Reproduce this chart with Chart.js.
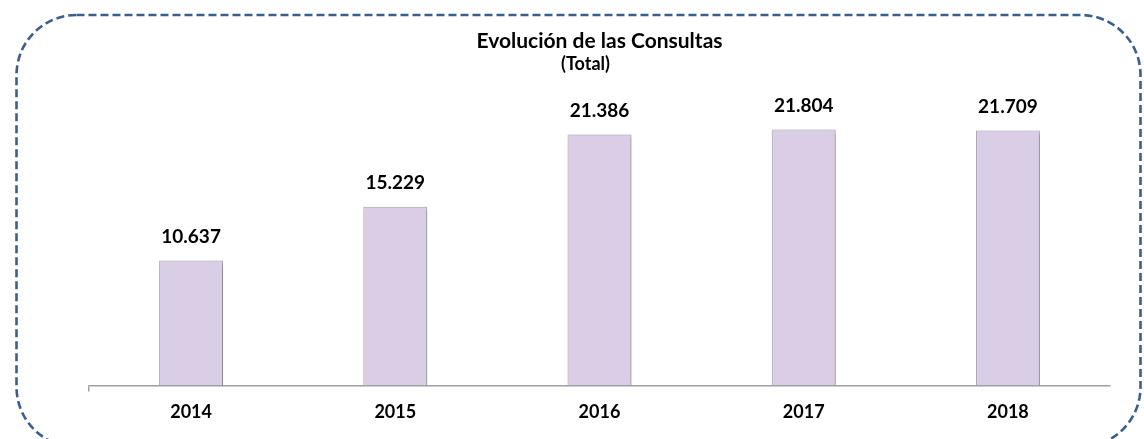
<!DOCTYPE html>
<html>
<head>
<meta charset="utf-8">
<script src="https://cdn.jsdelivr.net/npm/chart.js@4"></script>
<style>
  html, body { margin: 0; padding: 0; background: #fff; }
  #wrap { width: 1144px; height: 439px; position: relative; }
</style>
</head>
<body>
<div id="wrap"><canvas id="consultas" width="1144" height="439"></canvas></div>
<script>
const years = ['2014', '2015', '2016', '2017', '2018']
const consultas = [10637, 15229, 21386, 21804, 21709]
const chartTitle = 'Evolución de las Consultas'
const chartSubtitle = '(Total)'

const fontFamily = 'Lato, "Open Sans", sans-serif'

// number with dot as thousands separator
const fmt = (n) => String(n).replace(/\B(?=(\d{3})+(?!\d))/g, '.')

// dashed rounded frame around everything
const framePlugin = {
  id: 'frame',
  beforeDraw(chart) {
    const ctx = chart.ctx
    ctx.save()
    ctx.strokeStyle = '#3B5E8C'
    ctx.lineWidth = 2.6
    ctx.setLineDash([8, 4])
    ctx.beginPath()
    ctx.roundRect(16.5, 15, 1124, 432, 60)
    ctx.stroke()
    ctx.restore()
  }
}

const titlePlugin = {
  id: 'titles',
  afterDraw(chart) {
    const ctx = chart.ctx
    const cx = (chart.chartArea.left + chart.chartArea.right) / 2
    ctx.save()
    ctx.fillStyle = '#000'
    ctx.textAlign = 'center'
    ctx.textBaseline = 'middle'
    ctx.font = 'bold 21px ' + fontFamily
    ctx.fillText(chartTitle, cx, 41)
    ctx.font = 'bold 18px ' + fontFamily
    ctx.fillText(chartSubtitle, cx - 14, 64)
    ctx.restore()
  }
}

const valuePlugin = {
  id: 'values',
  beforeDatasetsDraw(chart) {
    const ctx = chart.ctx
    ctx.save()
    ctx.shadowColor = 'rgba(0,0,0,0.28)'
    ctx.shadowBlur = 4
    ctx.shadowOffsetX = 2
    ctx.shadowOffsetY = 2
  },
  afterDatasetsDraw(chart) {
    const ctx = chart.ctx
    ctx.restore()
    ctx.save()
    ctx.fillStyle = '#000'
    ctx.textAlign = 'center'
    ctx.textBaseline = 'middle'
    ctx.font = 'bold 19px ' + fontFamily
    chart.getDatasetMeta(0).data.forEach((bar, i) => {
      ctx.fillText(fmt(consultas[i]), bar.x, bar.y - 24)
    })
    ctx.restore()
  }
}

new Chart('consultas', {
  type: 'bar',
  data: {
    labels: years,
    datasets: [{
      data: consultas,
      backgroundColor: '#D9CEE6',
      borderColor: '#A9A6AD',
      borderWidth: 1,
      categoryPercentage: 1,
      barPercentage: 0.313
    }]
  },
  options: {
    responsive: false,
    animation: false,
    layout: { padding: { left: 89, right: 34, top: 92, bottom: 6 } },
    plugins: {
      legend: { display: false },
      tooltip: { enabled: false }
    },
    scales: {
      y: { display: false, min: 0, max: 25000 },
      x: {
        grid: {
          drawOnChartArea: false,
          tickLength: 6,
          lineWidth: 1.5,
          color: (c) => (c.index === 0 || c.index === years.length) ? '#A0A0A0' : 'rgba(0,0,0,0)'
        },
        border: { display: true, color: '#A0A0A0', width: 1.5 },
        ticks: {
          color: '#000',
          padding: 10,
          font: { family: fontFamily, size: 18, weight: 'bold' }
        }
      }
    }
  },
  plugins: [framePlugin, titlePlugin, valuePlugin]
})
</script>
</body>
</html>
